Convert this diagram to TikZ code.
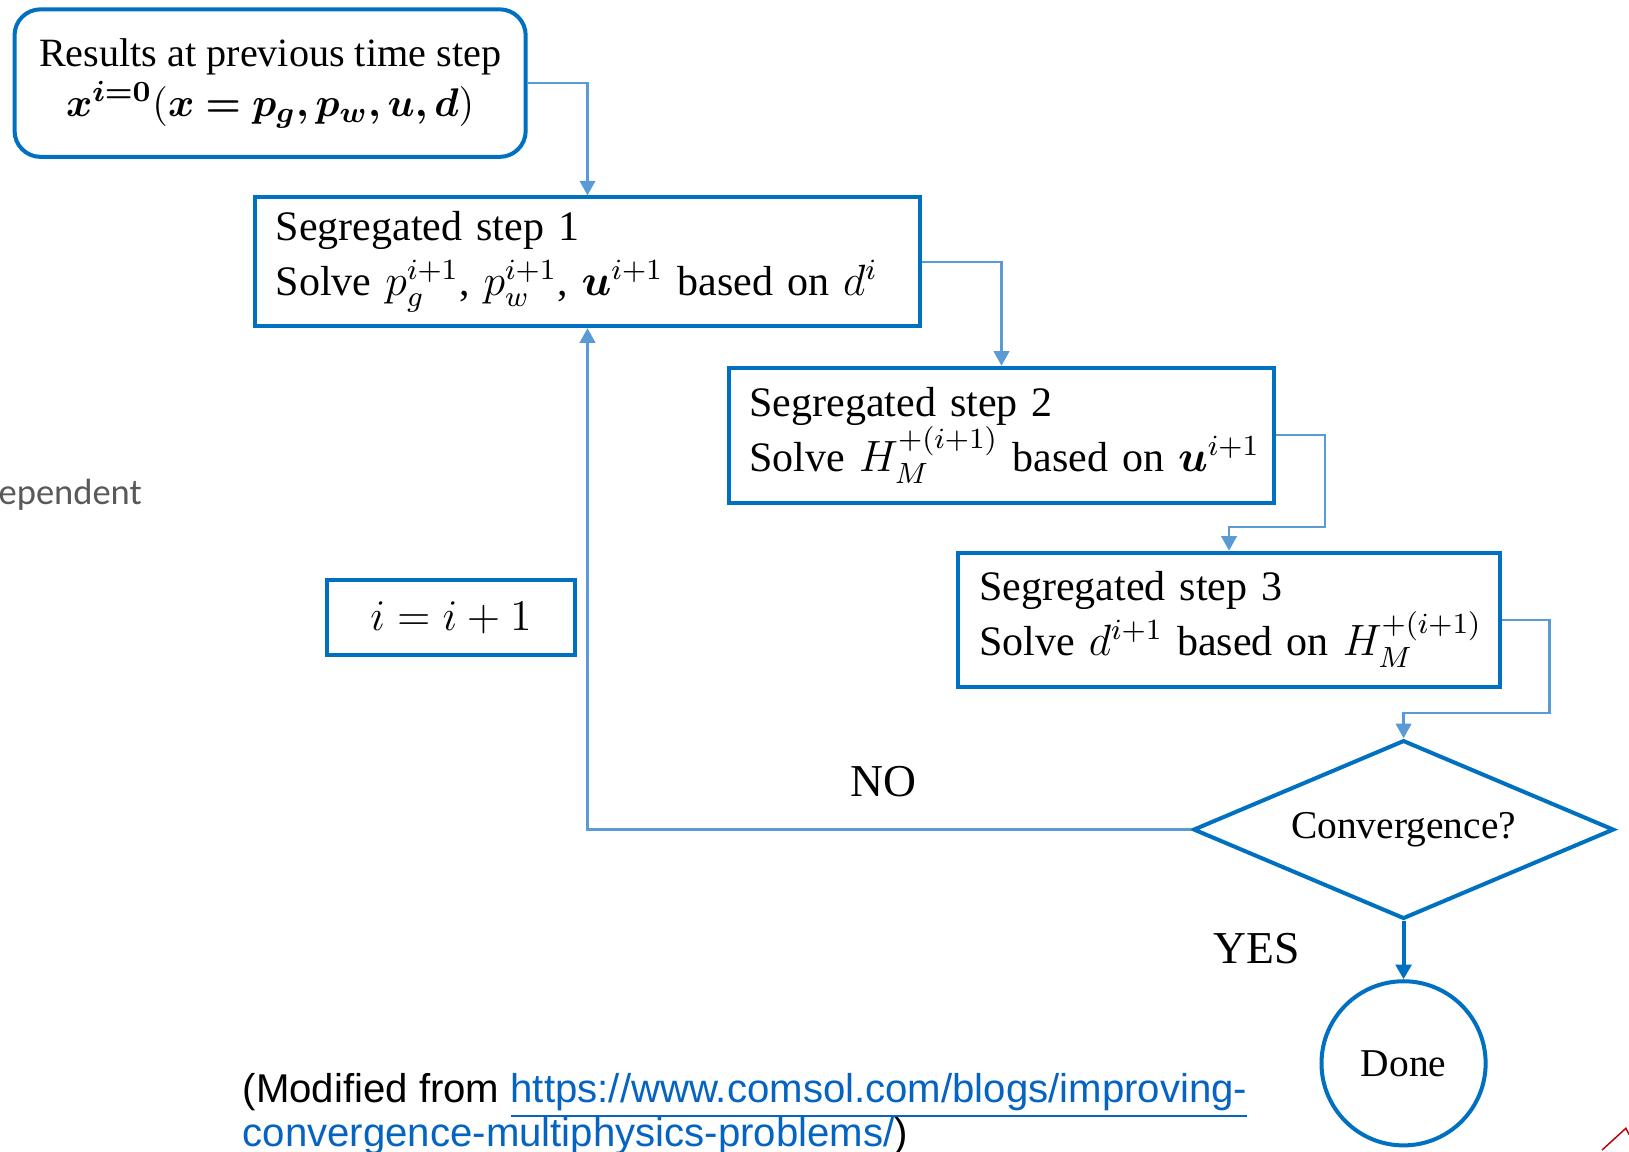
\documentclass[tikz,border=0pt]{standalone}
\usepackage{fontspec}
\setmainfont{Liberation Serif}
\newfontfamily\arialfont{Liberation Sans}
\newfontfamily\notefont{Carlito}
\usepackage{amsmath}
\usepackage{bm}
\usepackage{xcolor}
\usetikzlibrary{shapes.geometric,arrows.meta,positioning,calc}
\definecolor{boxblue}{HTML}{0070C0}
\definecolor{lineblue}{HTML}{5B9BD5}
\definecolor{urlblue}{HTML}{0563C1}
\definecolor{notegray}{HTML}{595959}

\begin{document}
\begin{tikzpicture}[
    prevbox/.style={rectangle, rounded corners=0.25cm, draw=boxblue, line width=1.1pt, minimum width=4.92cm, minimum height=1.42cm, align=center, font=\fontsize{11}{13.7}\selectfont},
    stepbox/.style={rectangle, draw=boxblue, line width=1.1pt, inner xsep=0.2cm, align=left, font=\fontsize{11.5}{15}\selectfont},
    countbox/.style={rectangle, draw=boxblue, line width=1.1pt, minimum width=2.38cm, minimum height=0.72cm, font=\fontsize{13}{15}\selectfont},
    decision/.style={diamond, aspect=2.35, draw=boxblue, line width=1.1pt, minimum width=4.05cm, minimum height=1.72cm, inner sep=0pt, font=\fontsize{10.8}{13}\selectfont},
    donecircle/.style={circle, draw=boxblue, line width=1.1pt, minimum size=1.58cm, inner sep=0pt, font=\fontsize{10.8}{13}\selectfont},
    arrow/.style={draw=lineblue, line width=0.6pt, -{Triangle[length=0.14cm, width=0.15cm]}},
    darrow/.style={draw=boxblue, line width=1.1pt, -{Triangle[length=0.14cm, width=0.15cm]}},
    branch/.style={font=\fontsize{12.5}{15}\selectfont}
]
    \useasboundingbox (0,0) rectangle (15.68,11.08);

    \node[prevbox] (prev) at (2.60, 10.28) {Results at previous time step\\
        $\bm{x^{i=0}}(\bm{x=p_g,p_w,u,d})$};

    % Three segregated steps, stepping down to the right
    \node[stepbox, text width=6.00cm, minimum height=1.24cm] (step1) at (5.655, 8.56) {Segregated step 1\\
        \mbox{Solve $p_g^{i+1}$, $p_w^{i+1}$, $\bm{u}^{i+1}$ based on $d^i$}};
    \node[stepbox, text width=4.85cm, minimum height=1.30cm] (step2) at (9.64, 6.89) {Segregated step 2\\
        \mbox{Solve $H_M^{+(i+1)}$ based on $\bm{u}^{i+1}$}};
    \node[stepbox, text width=4.81cm, minimum height=1.29cm] (step3) at (11.83, 5.115) {Segregated step 3\\
        \mbox{Solve $d^{i+1}$ based on $H_M^{+(i+1)}$}};

    \node[countbox] (incr) at (4.34, 5.135) {$i = i + 1$};

    \node[decision] (conv) at (13.51, 3.095) {Convergence?};
    \node[donecircle] (done) at (13.51, 0.845) {Done};

    \node[branch] (nolbl) at (8.50, 3.56) {NO};
    \node[branch] (yeslbl) at (12.10, 1.95) {YES};

    % Connectors
    \draw[arrow] (prev.east) -| (step1.north);
    \draw[arrow] (step1.east) -| (step2.north);
    \draw[arrow] (step2.east) -- ++(0.47,0) |- ([yshift=0.23cm]step3.north) -- (step3.north);
    \draw[arrow] (step3.east) -- ++(0.46,0) |- ([yshift=0.24cm]conv.north) -- (conv.north);
    \draw[arrow] (conv.west) -| (step1.south);
    \draw[darrow] (conv.south) -- (done.north);

    % Leftovers from the slide
    \node[anchor=west, inner sep=0, text=notegray, font=\notefont\fontsize{10}{12}\selectfont] (cut) at (-0.02, 6.32) {ependent};
    \node[anchor=base west, inner sep=0, font=\arialfont\fontsize{11}{13}\selectfont] (foot1) at (2.33, 0.47)
        {(Modified from \textcolor{urlblue}{\underline{https://www.comsol.com/blogs/improving-}}};
    \node[anchor=base west, inner sep=0, font=\arialfont\fontsize{11}{13}\selectfont] (foot2) at ([yshift=-0.43cm]foot1.base west)
        {\textcolor{urlblue}{\underline{convergence-multiphysics-problems/}})};
    \draw[red!75!black, line width=0.4pt] (15.42,0.01) -- (15.65,0.22) -- (15.68,0.16);
\end{tikzpicture}
\end{document}
